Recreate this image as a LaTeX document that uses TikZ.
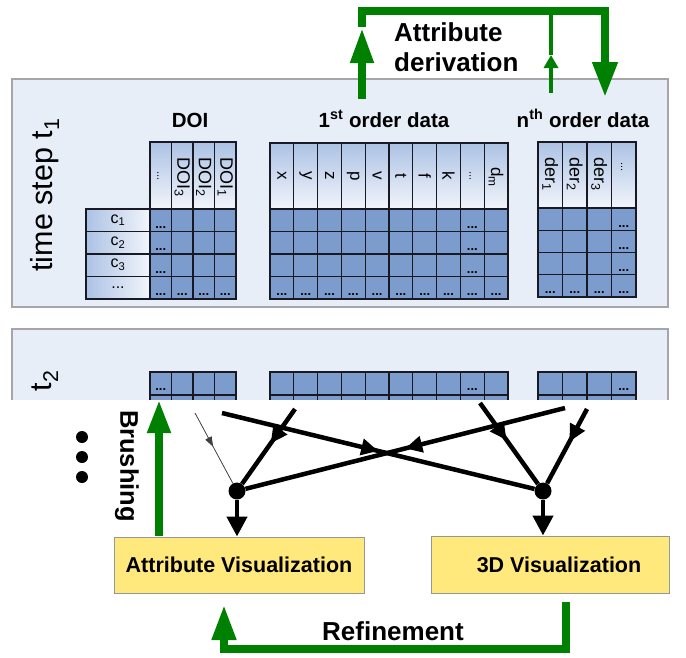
\documentclass[tikz,border=0pt]{standalone}
\usepackage{fontspec}
\setmainfont{Liberation Sans}
\usetikzlibrary{arrows.meta,decorations.markings}
\definecolor{panelfill}{RGB}{232,238,248}
\definecolor{panelline}{RGB}{165,165,170}
\definecolor{cellfill}{RGB}{123,156,205}
\definecolor{hdrtop}{RGB}{172,194,228}
\definecolor{hdrbot}{RGB}{242,245,251}
\definecolor{gridline}{RGB}{25,25,35}
\definecolor{vgreen}{RGB}{0,128,0}
\definecolor{vyellow}{RGB}{255,233,125}
\definecolor{boxline}{RGB}{150,150,150}
\begin{document}
\begin{tikzpicture}[x=1pt,y=-1pt,
  panel/.style={fill=panelfill,draw=panelline,line width=1.2pt},
  cell/.style={fill=cellfill,draw=gridline,line width=1.3pt},
  hdr/.style={top color=hdrtop,bottom color=hdrbot,draw=gridline,line width=1.3pt},
  lbl/.style={left color=hdrtop,right color=hdrbot,draw=gridline,line width=1.3pt},
  ell/.style={inner sep=0pt,anchor=base,font=\fontsize{13}{14}\selectfont\bfseries},
  vell/.style={inner sep=0pt,rotate=-90,font=\fontsize{11}{12}\selectfont},
  htxt/.style={inner sep=0pt,rotate=-90,anchor=west,font=\fontsize{18}{20}\selectfont},
  ltxt/.style={inner sep=0pt,rotate=-90,font=\fontsize{17}{20}\selectfont},
  ctxt/.style={inner sep=0pt,font=\fontsize{16}{18}\selectfont},
  title/.style={inner sep=0pt,anchor=base,font=\fontsize{20.5}{24}\selectfont\bfseries},
  gline/.style={draw=vgreen,line width=7.5pt},
  gthin/.style={draw=vgreen,line width=4pt},
  bline/.style={draw=black,line width=4.5pt},
  tline/.style={draw=black!75,line width=0.8pt},
  junction/.style={circle,fill=black,inner sep=0pt,minimum size=17pt},
  bullet/.style={circle,fill=black,inner sep=0pt,minimum size=12pt},
  vbox/.style={fill=vyellow,draw=boxline,line width=1pt,inner sep=0pt},
  boxtext/.style={font=\fontsize{21.5}{24}\selectfont\bfseries,inner sep=0pt},
  midarrow/.style={postaction={decorate},decoration={markings,mark=at position #1 with {\arrow{Triangle[length=17pt,width=16pt]}}}},
  thinarrow/.style={postaction={decorate},decoration={markings,mark=at position #1 with {\arrow{Triangle[length=10pt,width=7pt]}}}},
]
\useasboundingbox (0,0) rectangle (686,657);

% ---------------- time step t1 panel ----------------
\draw[panel] (12,79) rectangle (668,307);
\node[inner sep=0pt,rotate=90,font=\fontsize{30.5}{32}\selectfont] (ts1) at (45,195) {time step t\textsubscript{1}};

\node[title] (doititle) at (190,127) {DOI};
\node[title] (firsttitle) at (384,127) {1\textsuperscript{st} order data};
\node[title] (nthtitle) at (583,127) {n\textsuperscript{th} order data};

% DOI table
\foreach \i in {0,...,3}{
  \draw[hdr] ({150+21.5*\i},142) rectangle ({150+21.5*(\i+1)},209);
  \foreach \j in {0,...,3}{
    \draw[cell] ({150+21.5*\i},{209+22.5*\j}) rectangle ({150+21.5*(\i+1)},{209+22.5*(\j+1)});
  }
  \node[ell] (doi-r\i) at ({150+21.5*(\i+0.5)},{209+22.5*3+19}) {...};
}
\foreach \j in {0,...,2}{
  \node[ell] (doi-c\j) at (160.75,{209+22.5*\j+19}) {...};
}
\foreach \j/\t in {0/{c\textsubscript{1}},1/{c\textsubscript{2}},2/{c\textsubscript{3}},3/{...}}{
  \draw[lbl] (86,{209+22.5*\j}) rectangle (150,{209+22.5*(\j+1)});
  \node[ctxt] (lab\j) at (118,{209+22.5*\j+11}) {\t};
}
\node[vell] (doi-h0) at (158,176) {...};
\node[htxt] (doi-h1) at (182.25,157) {DOI\textsubscript{3}};
\node[htxt] (doi-h2) at (203.75,157) {DOI\textsubscript{2}};
\node[htxt] (doi-h3) at (225.25,157) {DOI\textsubscript{1}};

% 1st order table
\foreach \i in {0,...,9}{
  \draw[hdr] ({270+23.8*\i},143) rectangle ({270+23.8*(\i+1)},209);
  \foreach \j in {0,...,3}{
    \draw[cell] ({270+23.8*\i},{209+22.5*\j}) rectangle ({270+23.8*(\i+1)},{209+22.5*(\j+1)});
  }
  \node[ell] (fo-r\i) at ({270+23.8*(\i+0.5)},{209+22.5*3+19}) {...};
}
\foreach \j in {0,...,2}{
  \node[ell] (fo-c\j) at ({270+23.8*8.5},{209+22.5*\j+19}) {...};
}
\foreach \i/\t in {0/x,1/y,2/z,3/p,4/v,5/t,6/f,7/k}{
  \node[ltxt] (fo-h\i) at ({270+23.8*(\i+0.5)},176) {\t};
}
\node[vell] (fo-h8) at ({270+23.8*8.5-2},176) {...};
\node[ltxt] (fo-h9) at ({270+23.8*9.5},177) {d\textsubscript{m}};

% nth order table
\foreach \i in {0,...,3}{
  \draw[hdr] ({538+24.5*\i},142) rectangle ({538+24.5*(\i+1)},208);
  \foreach \j in {0,...,3}{
    \draw[cell] ({538+24.5*\i},{208+22.25*\j}) rectangle ({538+24.5*(\i+1)},{208+22.25*(\j+1)});
  }
  \node[ell] (no-r\i) at ({538+24.5*(\i+0.5)},{208+22.25*3+19}) {...};
}
\foreach \j in {0,...,2}{
  \node[ell] (no-c\j) at ({538+24.5*3.5},{208+22.25*\j+19}) {...};
}
\foreach \i in {1,2,3}{
  \node[htxt] (no-h\i) at ({538+24.5*(\i-0.5)},157) {der\textsubscript{\i}};
}
\node[vell] (no-h4) at ({538+24.5*3.5-2},167) {...};

% ---------------- t2 panel (cut) ----------------
\begin{scope}
  \clip (0,310) rectangle (686,399);
  \draw[panel] (12,329) rectangle (668,430);
  \foreach \i in {0,...,3}{
    \foreach \j in {0,1}{
      \draw[cell] ({150+21.5*\i},{372+23*\j}) rectangle ({150+21.5*(\i+1)},{372+23*(\j+1)});
    }
  }
  \foreach \i in {0,...,9}{
    \foreach \j in {0,1}{
      \draw[cell] ({270+23.8*\i},{372+23*\j}) rectangle ({270+23.8*(\i+1)},{372+23*(\j+1)});
    }
  }
  \foreach \i in {0,...,3}{
    \foreach \j in {0,1}{
      \draw[cell] ({538+24.5*\i},{372+23*\j}) rectangle ({538+24.5*(\i+1)},{372+23*(\j+1)});
    }
  }
  \node[ell] (t2e1) at (160.75,390) {...};
  \node[ell] (t2e2) at ({270+23.8*8.5},390) {...};
  \node[ell] (t2e3) at ({538+24.5*3.5},390) {...};
\end{scope}
\node[inner sep=0pt,rotate=90,font=\fontsize{30.5}{32}\selectfont] (ts2) at (45,381) {t\textsubscript{2}};

% ---------------- Attribute derivation loop ----------------
\coordinate (g1) at (362,99);
\coordinate (g1t) at (362,28);
\coordinate (g1s) at (362,27);
\coordinate (gtl) at (362,11);
\coordinate (gtr) at (605,11);
\coordinate (g3t) at (605,97);
\coordinate (g2) at (551,93);
\coordinate (g2t) at (551,55);
\coordinate (g2top) at (551,11);
\draw[gline,-{Triangle[length=35pt,width=22pt]}] (g1) -- (g1t);
\draw[gline,line join=miter,-{Triangle[length=35pt,width=24pt]}] (g1s) -- (gtl) -- (gtr) -- (g3t);
\draw[gthin,-{Triangle[length=13pt,width=14pt]}] (g2) -- (g2t);
\draw[gthin] (g2t) -- (g2top);
\node[inner sep=0pt,anchor=north west,align=left,font=\fontsize{26}{30}\selectfont\bfseries] (derlabel) at (394,22) {Attribute\\derivation};

% ---------------- lower part ----------------
\node[bullet] (b1) at (82,437) {};
\node[bullet] (b2) at (82,457) {};
\node[bullet] (b3) at (82,477) {};

\node[vbox,minimum width=250pt,minimum height=56pt] (avis) at (239,565) {};
\node[boxtext] (avist) at (239,565) {Attribute Visualization};
\node[vbox,minimum width=238pt,minimum height=57pt] (dvis) at (550,564.5) {};
\node[boxtext] (dvist) at (559,565) {3D Visualization};

\node[junction] (jl) at (237,491) {};
\node[junction] (jr) at (543,491) {};

\coordinate (s1) at (295,409);
\coordinate (s2) at (195,413);
\coordinate (s3) at (222,413);
\coordinate (s4) at (565,408);
\coordinate (s5) at (480,403);
\coordinate (s6) at (587,409);

\draw[bline,midarrow=0.46] (s1) -- (jl);
\draw[tline,thinarrow=0.48] (s2) -- (jl);
\draw[bline,midarrow=0.50] (s3) -- (jr);
\draw[bline,midarrow=0.50] (s4) -- (jl);
\draw[bline,midarrow=0.46] (s5) -- (jr);
\draw[bline,midarrow=0.44] (s6) -- (jr);

\draw[bline,-{Triangle[length=20pt,width=20pt]}] (jl) -- (jl |- avis.north);
\draw[bline,-{Triangle[length=20pt,width=20pt]}] (jr) -- (jr |- dvis.north);

% Brushing
\coordinate (br0) at (159,536);
\coordinate (br1) at (159,400);
\draw[gline,-{Triangle[length=33pt,width=22pt]}] (br0) -- (br1);
\node[inner sep=0pt,rotate=-90,font=\fontsize{25.5}{28}\selectfont\bfseries] (brlabel) at (127,466) {Brushing};

% Refinement
\coordinate (rf0) at (566,602);
\coordinate (rf1) at (566,649);
\coordinate (rf2) at (224,649);
\coordinate (rf3) at (224,605);
\draw[gline,line join=miter,-{Triangle[length=35pt,width=23pt]}] (rf0) -- (rf1) -- (rf2) -- (rf3);
\node[inner sep=0pt,anchor=base,font=\fontsize{26}{30}\selectfont\bfseries] (rflabel) at (393,640) {Refinement};
\end{tikzpicture}
\end{document}
